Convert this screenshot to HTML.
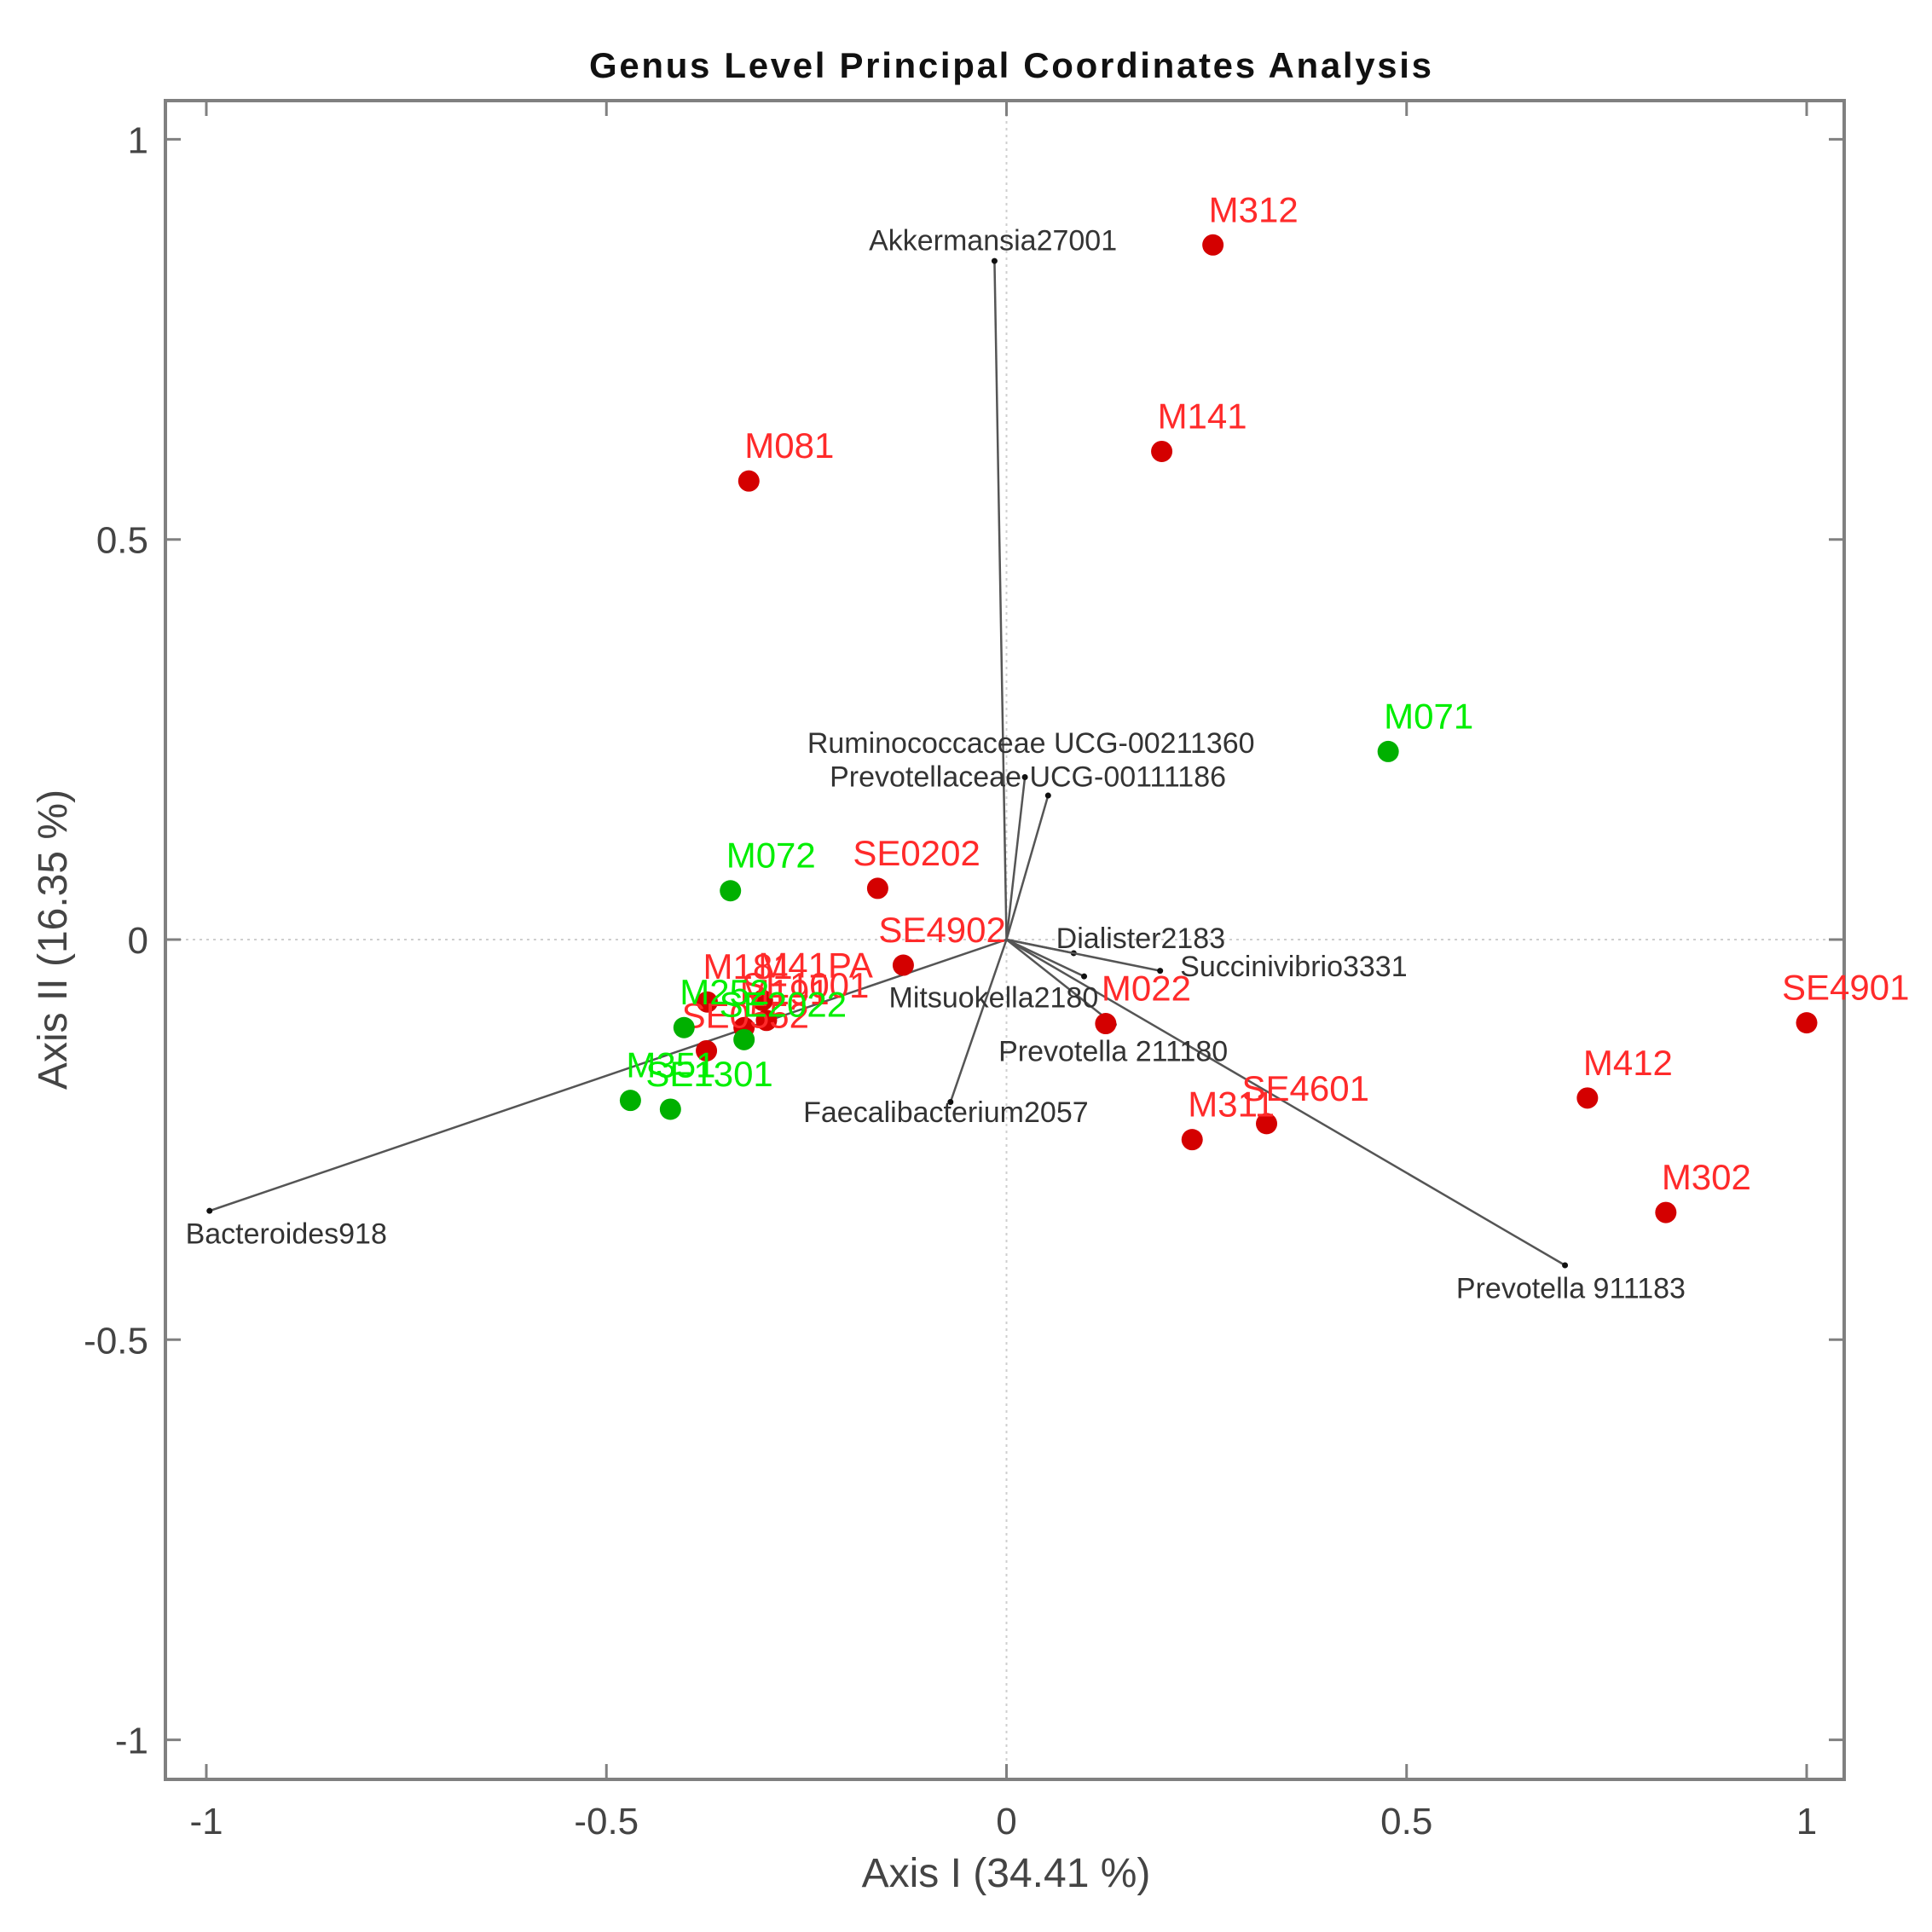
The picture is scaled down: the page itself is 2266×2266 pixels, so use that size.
<!DOCTYPE html>
<html><head><meta charset="utf-8"><title>Genus Level PCoA</title>
<style>html,body{margin:0;padding:0;background:#fff}svg{display:block}</style></head>
<body>
<svg id="chart" width="2266" height="2266" viewBox="0 0 2266 2266" xmlns="http://www.w3.org/2000/svg" font-family="Liberation Sans, Arial, sans-serif">
<rect x="0" y="0" width="2266" height="2266" fill="#fff"/>
<text x="1185" y="91" text-anchor="middle" font-size="42" font-weight="bold" fill="#111" textLength="988">Genus Level Principal Coordinates Analysis</text>
<g id="plot"></g>
<text x="1180" y="2213" text-anchor="middle" font-size="48" fill="#444">Axis I (34.41 %)</text>
<text x="0" y="0" transform="translate(78,1102) rotate(-90)" text-anchor="middle" font-size="48" fill="#444">Axis II (16.35 %)</text>
</svg>
<script>
// ---- data ----
const xTicks = [-1, -0.5, 0, 0.5, 1];
const yTicks = [-1, -0.5, 0, 0.5, 1];
const xTickLabels = ['-1', '-0.5', '0', '0.5', '1'];
const yTickLabels = ['-1', '-0.5', '0', '0.5', '1'];

const redNames = ['M312','M141','M081','SE0202','SE4902','M022','M311','SE4601','SE4901','M412','M302','SE1001','M191','SE0552','M41PA','M181'];
const redX = [0.258, 0.194, -0.322, -0.161, -0.129, 0.124, 0.232, 0.325, 1.0, 0.726, 0.824, -0.300, -0.328, -0.375, -0.305, -0.374];
const redY = [0.868, 0.610, 0.573, 0.064, -0.032, -0.105, -0.250, -0.230, -0.104, -0.198, -0.341, -0.101, -0.110, -0.139, -0.076, -0.078];

const greenNames = ['M071','M072','M252','SE2022','M351','SE1301'];
const greenX = [0.477, -0.345, -0.403, -0.328, -0.470, -0.420];
const greenY = [0.235, 0.061, -0.110, -0.125, -0.201, -0.212];

const vecNames = ['Akkermansia27001','Bacteroides918','Prevotella 911183','Ruminococcaceae UCG-00211360','Prevotellaceae UCG-00111186','Dialister2183','Succinivibrio3331','Mitsuokella2180','Prevotella 211180','Faecalibacterium2057'];
const vecX = [-0.015, -0.996, 0.698, 0.023, 0.052, 0.084, 0.192, 0.097, 0.134, -0.070];
const vecY = [0.848, -0.339, -0.407, 0.203, 0.180, -0.017, -0.039, -0.046, -0.106, -0.203];
const vecLabelX = [-0.172, -1.026, 0.562, -0.249, -0.221, 0.062, 0.217, -0.147, -0.010, -0.254];
const vecLabelY = [0.874, -0.367, -0.435, 0.246, 0.204, 0.002, -0.033, -0.072, -0.139, -0.215];

// ---- axes ----
const X0 = 1180.5, XU = 938.5, Y0 = 1102, YU = 938.6;
const L = 194, R = 2163, T = 118, B = 2087;
function sx(v){ return X0 + v * XU; }
function sy(v){ return Y0 - v * YU; }

const NS = 'http://www.w3.org/2000/svg';
const plot = document.getElementById('plot');
function mk(tag, attrs, parent){
  const e = document.createElementNS(NS, tag);
  for (const k in attrs) e.setAttribute(k, attrs[k]);
  (parent || plot).appendChild(e);
  return e;
}

// zero lines
let zl = mk('line', {x1: sx(0), y1: T, x2: sx(0), y2: B, stroke: '#cfcfcf', 'stroke-width': 2, 'stroke-dasharray': '3,5'});


zl = mk('line', {x1: L, y1: sy(0), x2: R, y2: sy(0), stroke: '#cfcfcf', 'stroke-width': 2, 'stroke-dasharray': '3,5'});



// box
const box = mk('rect', {x: L, y: T, width: R - L, height: B - T, fill: 'none', stroke: '#808080', 'stroke-width': 4});



// ticks
xTicks.forEach((v, i) => {
  const t1 = mk('line', {x1: sx(v), y1: B, x2: sx(v), y2: B - 18, stroke: '#808080', 'stroke-width': 3});
  
  
  const t2 = mk('line', {x1: sx(v), y1: T, x2: sx(v), y2: T + 18, stroke: '#808080', 'stroke-width': 3});
  
  
  const lb = mk('text', {x: sx(v), y: 2151, 'text-anchor': 'middle', 'font-size': 44, fill: '#444'});
  lb.textContent = xTickLabels[i];
  
  
});
yTicks.forEach((v, i) => {
  const t1 = mk('line', {x1: L, y1: sy(v), x2: L + 18, y2: sy(v), stroke: '#808080', 'stroke-width': 3});
  
  
  const t2 = mk('line', {x1: R, y1: sy(v), x2: R - 18, y2: sy(v), stroke: '#808080', 'stroke-width': 3});
  
  
  const lb = mk('text', {x: 174, y: sy(v) + 16, 'text-anchor': 'end', 'font-size': 44, fill: '#444'});
  lb.textContent = yTickLabels[i];
  
  
});

// vectors
vecNames.forEach((n, i) => {
  const ln = mk('line', {x1: sx(0), y1: sy(0), x2: sx(vecX[i]), y2: sy(vecY[i]), stroke: '#555', 'stroke-width': 2.5});
  
  
  const hd = mk('circle', {cx: sx(vecX[i]), cy: sy(vecY[i]), r: 3.5, fill: '#111'});
  
  
});
vecNames.forEach((n, i) => {
  const t = mk('text', {x: sx(vecLabelX[i]), y: sy(vecLabelY[i]) + 12, 'font-size': 34, fill: '#333'});
  t.textContent = n;
  
  
});

// points
function drawGroup(names, xs, ys, dotColor, textColor, grp){
  names.forEach((n, i) => {
    const c = mk('circle', {cx: sx(xs[i]), cy: sy(ys[i]), r: 12.5, fill: dotColor});
    
    
  });
  names.forEach((n, i) => {
    const dx = n.startsWith('SE') ? -29 : -5;
    const t = mk('text', {x: sx(xs[i]) + dx, y: sy(ys[i]) - 27, 'font-size': 42, fill: textColor});
    t.textContent = n;
    
    
  });
}
drawGroup(redNames, redX, redY, '#d40000', '#ff2a2a', 'red');
drawGroup(greenNames, greenX, greenY, '#00b000', '#00ee00', 'green');
</script>
</body></html>
